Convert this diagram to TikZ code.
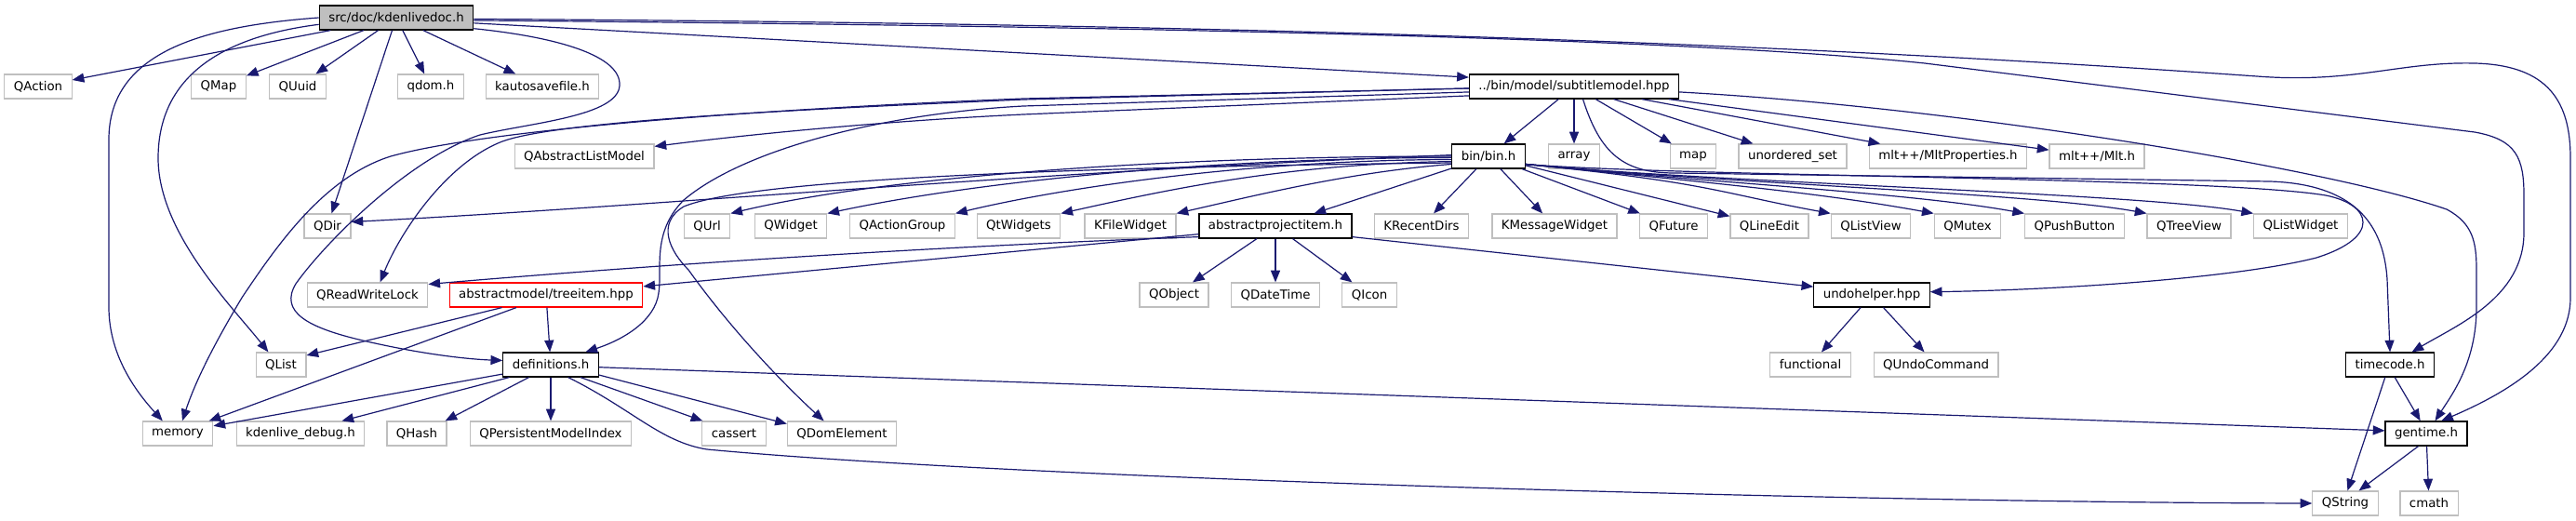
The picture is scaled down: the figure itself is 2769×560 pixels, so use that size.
\documentclass[tikz,border=0pt]{standalone}
\usepackage{fontspec}
\setmainfont{DejaVu Sans}
\usepackage{xcolor}
\definecolor{cEdge}{HTML}{191970}
\definecolor{cExt}{HTML}{BFBFBF}
\definecolor{cDoc}{HTML}{000000}
\definecolor{cBad}{HTML}{FF0000}
\usepackage{tikz}
\usetikzlibrary{arrows.meta}
\tikzset{
  node-file/.style={draw=cDoc,line width=0.9pt,fill=white,minimum height=19.5pt,
    inner xsep=7.5pt,inner ysep=1pt,font=\fontsize{10}{12}\selectfont},
  node-ext/.style={node-file,draw=cExt},
  node-root/.style={node-file,fill=cExt},
  node-bad/.style={node-file,draw=cBad},
  % include edges: midnight blue, filled triangle tip
  arrow/.style={-{Triangle[length=9.5pt,width=7.5pt]},line width=0.9pt,draw=cEdge},
}

\begin{document}
\begin{tikzpicture}[x=0.75pt,y=-0.75pt]
  \fill[white] (0,0) rectangle (2769,560);
  \useasboundingbox (0,0) rectangle (2769,560);
  % files
  \node[node-root] (doc) at (426,19) {src/doc/kdenlivedoc.h};
  \node[node-ext] (qaction) at (41,93) {QAction};
  \node[node-ext] (qmap) at (235,93) {QMap};
  \node[node-ext] (quuid) at (320,93) {QUuid};
  \node[node-ext] (qdom) at (463,93) {qdom.h};
  \node[node-ext] (kautosave) at (583,93) {kautosavefile.h};
  \node[node-file] (subtitle) at (1692,93) {../bin/model/subtitlemodel.hpp};
  \node[node-ext] (qalm) at (628,168) {QAbstractListModel};
  \node[node-file] (bin) at (1600,168) {bin/bin.h};
  \node[node-ext] (array) at (1692,168) {array};
  \node[node-ext] (map) at (1820,168) {map};
  \node[node-ext] (uset) at (1927,168) {unordered\_set};
  \node[node-ext] (mltprops) at (2094,168) {mlt++/MltProperties.h};
  \node[node-ext] (mlt) at (2254,168) {mlt++/Mlt.h};
  \node[node-ext] (qdir) at (352,243) {QDir};
  \node[node-ext] (qurl) at (760,243) {QUrl};
  \node[node-ext] (qwidget) at (850,243) {QWidget};
  \node[node-ext] (qactiongroup) at (970,243) {QActionGroup};
  \node[node-ext] (qtwidgets) at (1095,243) {QtWidgets};
  \node[node-ext] (kfilewidget) at (1215,243) {KFileWidget};
  \node[node-file] (api) at (1371,243) {abstractprojectitem.h};
  \node[node-ext] (krecentdirs) at (1528,243) {KRecentDirs};
  \node[node-ext] (kmessagewidget) at (1671,243) {KMessageWidget};
  \node[node-ext] (qfuture) at (1799,243) {QFuture};
  \node[node-ext] (qlineedit) at (1902,243) {QLineEdit};
  \node[node-ext] (qlistview) at (2011,243) {QListView};
  \node[node-ext] (qmutex) at (2115,243) {QMutex};
  \node[node-ext] (qpushbutton) at (2230,243) {QPushButton};
  \node[node-ext] (qtreeview) at (2353,243) {QTreeView};
  \node[node-ext] (qlistwidget) at (2473,243) {QListWidget};
  \node[node-ext] (qrwlock) at (395,317) {QReadWriteLock};
  \node[node-bad] (treeitem) at (587,317) {abstractmodel/treeitem.hpp};
  \node[node-ext] (qobject) at (1262,317) {QObject};
  \node[node-ext] (qdatetime) at (1371,317) {QDateTime};
  \node[node-ext] (qicon) at (1472,317) {QIcon};
  \node[node-file] (undo) at (2012,317) {undohelper.hpp};
  \node[node-ext] (qlist) at (302,392) {QList};
  \node[node-file] (defs) at (592,392) {definitions.h};
  \node[node-ext] (functional) at (1946,392) {functional};
  \node[node-ext] (qundocommand) at (2081,392) {QUndoCommand};
  \node[node-file] (timecode) at (2569,392) {timecode.h};
  \node[node-ext] (memory) at (191,466) {memory};
  \node[node-ext] (kdebug) at (323,466) {kdenlive\_debug.h};
  \node[node-ext] (qhash) at (448,466) {QHash};
  \node[node-ext] (qpmi) at (592,466) {QPersistentModelIndex};
  \node[node-ext] (cassert) at (789,466) {cassert};
  \node[node-ext] (qdomelement) at (905,466) {QDomElement};
  \node[node-file] (gentime) at (2608,466) {gentime.h};
  \node[node-ext] (qstring) at (2521,541) {QString};
  \node[node-ext] (cmath) at (2611,541) {cmath};

  % kdenlivedoc.h
  \foreach \t in {qaction,qmap,quuid,qdom,kautosave,qdir}
    \draw[arrow] (doc) -- (\t);
  \draw[arrow] (doc.west) .. controls (220,28) and (117,55) .. (117,150) -- (117,330)
    .. controls (117,385) and (150,425) .. (memory.140);
  \draw[arrow] (doc.185) .. controls (250,38) and (170,75) .. (170,170)
    .. controls (170,250) and (250,330) .. (qlist.135);
  \draw[arrow] (doc.-8) .. controls (600,40) and (668,60) .. (666,92)
    .. controls (664,125) and (570,132) .. (516,145)
    .. controls (440,170) and (350,260) .. (318,305)
    .. controls (300,335) and (330,352) .. (390,366)
    .. controls (450,380) and (500,386) .. (defs.175);
  \draw[arrow] (doc.-4) -- (subtitle.175);
  \draw[arrow] (doc.-2) .. controls (1200,28) and (1800,40) .. (2069,68) -- (2660,142)
    .. controls (2705,150) and (2713,170) .. (2713,210) -- (2713,250)
    .. controls (2713,320) and (2640,350) .. (timecode.30);
  \draw[arrow] (doc.-1) .. controls (1300,25) and (1900,45) .. (2426,82)
    .. controls (2530,90) and (2580,66) .. (2660,68)
    .. controls (2740,70) and (2763,110) .. (2763,170) -- (2763,320)
    .. controls (2763,380) and (2700,420) .. (gentime.40);

  % subtitlemodel.hpp
  \foreach \t in {bin,array,map,uset,mltprops,mlt}
    \draw[arrow] (subtitle) -- (\t);
  \draw[arrow] (subtitle.185) -- (1100,123) .. controls (950,130) and (800,145) .. (qalm.8);
  \draw[arrow] (subtitle.181) -- (1100,106) .. controls (800,118) and (520,140) .. (420,168)
    .. controls (350,190) and (300,260) .. (260,320)
    .. controls (230,370) and (210,410) .. (memory.70);
  \draw[arrow] (subtitle.181) -- (1100,107) .. controls (850,118) and (600,130) .. (540,152)
    .. controls (480,175) and (430,250) .. (qrwlock.45);
  \draw[arrow] (subtitle.183) -- (1100,114) .. controls (950,122) and (800,160) .. (735,215)
    .. controls (700,250) and (712,290) .. (708,315)
    .. controls (704,345) and (670,365) .. (defs.20);
  \draw[arrow] (subtitle.-55) .. controls (1720,165) and (1745,186) .. (1800,186) -- (2440,195)
    .. controls (2530,198) and (2562,240) .. (2566,300) -- (timecode.north);
  \draw[arrow] (subtitle.-3) .. controls (2100,115) and (2500,180) .. (2630,225)
    .. controls (2658,240) and (2662,260) .. (2662,290) -- (2662,330)
    .. controls (2662,390) and (2635,425) .. (gentime.55);

  % bin.h
  \draw[arrow] (bin.178) .. controls (1100,185) and (700,222) .. (qdir.10);
  \draw[arrow] (bin.180) .. controls (1250,168) and (950,190) .. (qurl.north east);
  \draw[arrow] (bin.182) .. controls (1300,170) and (1050,195) .. (qwidget.north east);
  \draw[arrow] (bin.185) .. controls (1350,172) and (1150,200) .. (qactiongroup.north east);
  \draw[arrow] (bin.188) .. controls (1380,176) and (1250,205) .. (qtwidgets.north east);
  \draw[arrow] (bin.192) .. controls (1450,185) and (1350,210) .. (kfilewidget.north east);
  \draw[arrow] (bin.190) .. controls (1100,180) and (800,195) .. (735,222)
    .. controls (705,240) and (720,270) .. (740,290)
    .. controls (790,360) and (850,420) .. (qdomelement.145);
  \foreach \t in {api,krecentdirs,kmessagewidget,qfuture,qlineedit}
    \draw[arrow] (bin) -- (\t);
  \foreach \t in {qlistview,qmutex,qpushbutton,qtreeview,qlistwidget}
    \draw[arrow] (bin.-12) .. controls +(200,20) and +(-120,-22) .. (\t.north west);
  \draw[arrow] (bin.-12) .. controls (1800,190) and (2380,190) .. (2500,210)
    .. controls (2550,220) and (2560,255) .. (2490,277)
    .. controls (2400,300) and (2200,312) .. (undo.3);

  % abstractprojectitem.h
  \draw[arrow] (api.-172) .. controls (1000,265) and (700,285) .. (qrwlock.10);
  \draw[arrow] (api.-174) -- (treeitem.5);
  \foreach \t in {qobject,qdatetime,qicon}
    \draw[arrow] (api) -- (\t);
  \draw[arrow] (api.-8) -- (undo.172);

  % treeitem.hpp
  \draw[arrow] (treeitem.-164) -- (qlist.20);
  \draw[arrow] (treeitem.-157) -- (memory.22);
  \draw[arrow] (treeitem) -- (defs);

  % definitions.h
  \draw[arrow] (defs.191) -- (memory.12);
  \draw[arrow] (defs.-163) -- (kdebug.17);
  \draw[arrow] (defs.-150) -- (qhash.24);
  \draw[arrow] (defs) -- (qpmi);
  \draw[arrow] (defs.-23) -- (cassert.158);
  \draw[arrow] (defs.-12) -- (qdomelement.170);
  \draw[arrow] (defs.-3) -- (gentime.176);
  \draw[arrow] (defs.-36) .. controls (680,440) and (710,475) .. (760,483)
    .. controls (1100,515) and (2000,540) .. (qstring.west);

  % undohelper, timecode, gentime
  \draw[arrow] (undo) -- (functional);
  \draw[arrow] (undo) -- (qundocommand);
  \draw[arrow] (timecode.-111) -- (qstring.80);
  \draw[arrow] (timecode.-69) -- (gentime.115);
  \draw[arrow] (gentime.-122) -- (qstring.43);
  \draw[arrow] (gentime) -- (cmath);
\end{tikzpicture}
\end{document}
